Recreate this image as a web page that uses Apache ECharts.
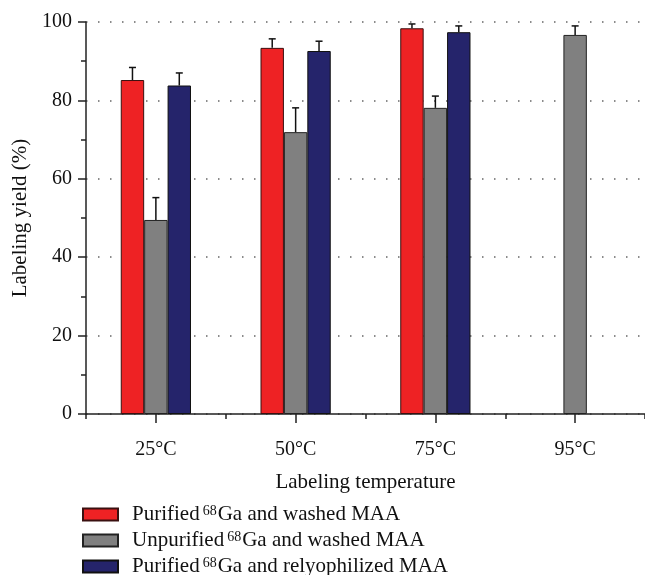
<!DOCTYPE html>
<html>
<head>
<meta charset="utf-8">
<script src="https://cdn.jsdelivr.net/npm/echarts@6/dist/echarts.min.js"></script>
<style>
  html, body { margin: 0; padding: 0; background: #fff; }
  #chart { width: 645px; height: 575px; }
</style>
</head>
<body>
<div id="chart"></div>
<script>
const categories = ['25°C', '50°C', '75°C', '95°C'];

// mean labeling yield (%) and upper error per temperature
const purifiedWashed = [85.2, 93.4, 98.4, null];
const purifiedWashedErr = [3.2, 2.3, 1.1, null];
const unpurifiedWashed = [49.5, 71.9, 78.1, 96.7];
const unpurifiedWashedErr = [5.7, 6.2, 3.0, 2.3];
const purifiedRelyo = [83.8, 92.6, 97.4, null];
const purifiedRelyoErr = [3.2, 2.5, 1.6, null];

const yTicks = [0, 20, 40, 60, 80, 100];

const FONT = '"Liberation Serif", "DejaVu Serif", serif';
const BAR_FRAC = 0.1675;

const chart = echarts.init(document.getElementById('chart'));

function errData(values, errs, slot) {
    return values.map((v, i) => v == null ? null : [i, v, errs[i], slot]);
}

function renderErr(params, api) {
    const band = api.size([1, 0])[0];
    const off = (api.value(3) - 1) * band * BAR_FRAC;
    const base = api.coord([api.value(0), api.value(1)]);
    const top = api.coord([api.value(0), api.value(1) + api.value(2)]);
    const x = base[0] + off;
    const style = { stroke: '#111', lineWidth: 1.5 };
    return {
        type: 'group',
        children: [
            { type: 'line', shape: { x1: x, y1: base[1], x2: x, y2: top[1] }, style: style },
            { type: 'line', shape: { x1: x - 3.5, y1: top[1], x2: x + 3.5, y2: top[1] }, style: style }
        ]
    };
}

const legendRich = {
    a: { fontFamily: FONT, fontSize: 21, color: '#111', lineHeight: 20, padding: [0, 0, 0, 9] },
    b: { fontFamily: FONT, fontSize: 21, color: '#111', lineHeight: 20 },
    sup: { fontFamily: FONT, fontSize: 14, color: '#111', lineHeight: 12, verticalAlign: 'top', padding: [0, 1, 0, 3] }
};

const option = {
    animation: false,
    grid: { left: 86, right: 0, top: 22, bottom: 161 },
    legend: {
        orient: 'vertical',
        left: 82,
        top: 504,
        height: 80,
        padding: 0,
        icon: 'rect',
        itemWidth: 35,
        itemHeight: 12,
        itemGap: 5,
        data: ['Purified 68Ga and washed MAA', 'Unpurified 68Ga and washed MAA', 'Purified 68Ga and relyophilized MAA'],
        formatter: function (name) {
            const parts = name.split(' 68');
            return '{a|' + parts[0] + '}{sup|68}{b|' + parts[1] + '}';
        },
        textStyle: { rich: legendRich }
    },
    xAxis: [
        {
            type: 'category',
            data: categories,
            name: 'Labeling temperature',
            nameLocation: 'middle',
            nameGap: 58,
            nameTextStyle: { fontFamily: FONT, fontSize: 21, color: '#111' },
            axisLine: { show: true, lineStyle: { color: '#222', width: 1.5 } },
            axisTick: { show: true, alignWithLabel: true, length: 9, lineStyle: { color: '#222', width: 1.5 } },
            axisLabel: { fontFamily: FONT, fontSize: 20, color: '#111', margin: 26 },
            splitLine: { show: false }
        },
        {
            type: 'category',
            data: categories,
            position: 'bottom',
            axisLine: { show: false },
            axisTick: { show: true, length: 5, lineStyle: { color: '#222', width: 1.5 } },
            axisLabel: { show: false },
            splitLine: { show: false }
        }
    ],
    yAxis: {
        type: 'value',
        min: yTicks[0],
        max: yTicks[yTicks.length - 1],
        interval: 20,
        name: 'Labeling yield (%)',
        nameLocation: 'middle',
        nameGap: 54,
        nameTextStyle: { fontFamily: FONT, fontSize: 21, color: '#111' },
        axisLine: { show: true, lineStyle: { color: '#222', width: 1.5 } },
        axisTick: { show: true, length: 8, lineStyle: { color: '#222', width: 1.5 } },
        minorTick: { show: true, splitNumber: 2, length: 5, lineStyle: { color: '#222', width: 1.5 } },
        axisLabel: { fontFamily: FONT, fontSize: 20, color: '#111', margin: 14 },
        splitLine: { show: true, lineStyle: { color: '#666', width: 1.5, type: [1.5, 10.5] } }
    },
    series: [
        {
            name: 'Purified 68Ga and washed MAA',
            type: 'bar',
            data: purifiedWashed,
            barWidth: (BAR_FRAC * 100) + '%',
            barGap: '0%',
            itemStyle: { color: '#EE2224', borderColor: '#3a1010', borderWidth: 1 }
        },
        {
            name: 'Unpurified 68Ga and washed MAA',
            type: 'bar',
            data: unpurifiedWashed,
            barWidth: (BAR_FRAC * 100) + '%',
            barGap: '0%',
            itemStyle: { color: '#808080', borderColor: '#222', borderWidth: 1 }
        },
        {
            name: 'Purified 68Ga and relyophilized MAA',
            type: 'bar',
            data: purifiedRelyo,
            barWidth: (BAR_FRAC * 100) + '%',
            barGap: '0%',
            itemStyle: { color: '#25246B', borderColor: '#111', borderWidth: 1 }
        },
        { type: 'custom', renderItem: renderErr, data: errData(purifiedWashed, purifiedWashedErr, 0), z: 3 },
        { type: 'custom', renderItem: renderErr, data: errData(unpurifiedWashed, unpurifiedWashedErr, 1), z: 3 },
        { type: 'custom', renderItem: renderErr, data: errData(purifiedRelyo, purifiedRelyoErr, 2), z: 3 }
    ]
};

chart.setOption(option);
</script>
</body>
</html>
